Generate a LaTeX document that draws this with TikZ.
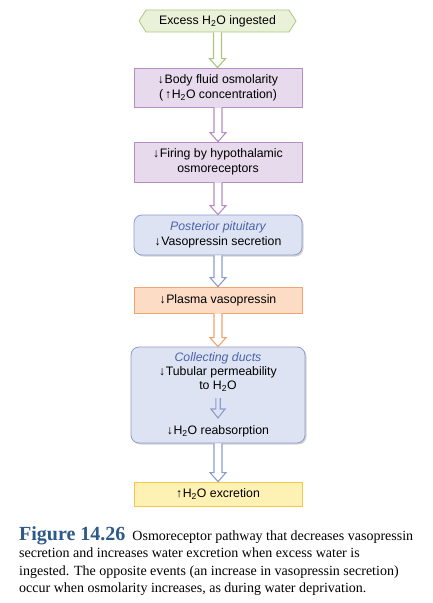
\documentclass[tikz,border=0pt]{standalone}
\usepackage{fontspec}
\setmainfont{Liberation Serif}
\newfontfamily\arial{Liberation Sans}
\usetikzlibrary{shapes.symbols,shadows,calc}
\definecolor{grF}{HTML}{E9F1D9}\definecolor{grD}{HTML}{A9C77F}
\definecolor{puF}{HTML}{E7DAEC}\definecolor{puD}{HTML}{B68DC3}
\definecolor{blF}{HTML}{DEE3F3}\definecolor{blD}{HTML}{8C9CCC}
\definecolor{orF}{HTML}{FCDCC4}\definecolor{orD}{HTML}{F2A46F}
\definecolor{yeF}{HTML}{FDF1B4}\definecolor{yeD}{HTML}{F5C64A}
\definecolor{capblue}{HTML}{2E5A87}
\definecolor{italblue}{HTML}{4A63A8}
\newcommand\blkarrow[6]{% fill, draw, from, to, shaft half width, head half width
  \draw[#2, fill=#1, line width=1.1pt, line join=miter] let \p1=(#3), \p2=(#4) in
  ({\x1-#5},\y1) -- ({\x1-#5},{\y2+9pt}) -- ({\x1-#6},{\y2+9pt}) -- (\x1,\y2)
  -- ({\x1+#6},{\y2+9pt}) -- ({\x1+#5},{\y2+9pt}) -- ({\x1+#5},\y1);}
\newcommand\Hto{H\textsubscript{2}O}
\newcommand\dn{↓\hspace{0.5pt}}
\newcommand\up{↑\hspace{0.5pt}}
\begin{document}
\begin{tikzpicture}[x=1pt,y=-1pt,
  txt/.style={font=\arial\fontsize{12.3}{15}\selectfont, align=center, inner sep=0pt},
  sqbox/.style={txt, rectangle, minimum width=168pt, line width=0.8pt},
  rdbox/.style={sqbox, rounded corners=8pt, drop shadow={shadow xshift=1.5pt, shadow yshift=-1.5pt, opacity=0.35}},
  capl/.style={anchor=base west, inner sep=0pt, font=\fontsize{14}{17}\selectfont}]
\useasboundingbox (0,0) rectangle (432,603);
\node[signal, signal to=west and east, signal pointer angle=115, draw=grD, fill=grF, line width=0.8pt,
  minimum width=157pt, minimum height=22pt, inner sep=0pt, font=\arial\fontsize{12.3}{15}\selectfont] (ex) at (217.5,21) {Excess \Hto{} ingested};
\node[sqbox, draw=puD, fill=puF, minimum height=39pt] (bf) at (218,87.5) {\dn Body fluid osmolarity\\(\,\up\Hto{} concentration)};
\node[sqbox, draw=puD, fill=puF, minimum height=40pt] (fh) at (218,162) {\dn Firing by hypothalamic\\osmoreceptors};
\node[rdbox, draw=blD, fill=blF, minimum height=40pt] (pp) at (218,235) {\textcolor{italblue}{\itshape Posterior pituitary}\\\dn Vasopressin secretion};
\node[sqbox, draw=orD, fill=orF, minimum height=26pt] (pv) at (218,300) {\dn Plasma vasopressin};
\node[rdbox, draw=blD, fill=blF, minimum width=174pt, minimum height=96pt] (cd) at (218,395) {};
\node[txt, font=\arial\fontsize{12.3}{14}\selectfont] (tp) at (218,372) {\textcolor{italblue}{\itshape Collecting ducts}\\\dn Tubular permeability\\to \Hto};
\node[txt] (ra) at (218,431) {\dn\Hto{} reabsorption};
\node[sqbox, draw=yeD, fill=yeF, minimum height=24pt] (xe) at (218,494) {\up\Hto{} excretion};
\coordinate (ia) at (218,398);
\coordinate (ib) at (218,418);
\blkarrow{white}{grD}{ex.south}{bf.north}{4pt}{8pt}
\blkarrow{white}{puD}{bf.south}{fh.north}{4pt}{8pt}
\blkarrow{white}{puD}{fh.south}{pp.north}{4pt}{8pt}
\blkarrow{white}{blD}{pp.south}{pv.north}{4pt}{8pt}
\blkarrow{white}{orD}{pv.south}{cd.north}{4pt}{8pt}
\blkarrow{white}{blD}{cd.south}{xe.north}{4pt}{8pt}
\blkarrow{blF}{blD}{ia}{ib}{2.2pt}{7pt}
\node[capl] (c1) at (19,540) {\textcolor{capblue}{\fontsize{20}{20}\selectfont\bfseries Figure 14.26}\hspace{7pt}Osmoreceptor pathway that decreases vasopressin};
\node[capl] (c2) at (19,557.5) {secretion and increases water excretion when excess water is};
\node[capl] (c3) at (19,575) {ingested. The opposite events (an increase in vasopressin secretion)};
\node[capl] (c4) at (19,592.5) {occur when osmolarity increases, as during water deprivation.};
\end{tikzpicture}
\end{document}
